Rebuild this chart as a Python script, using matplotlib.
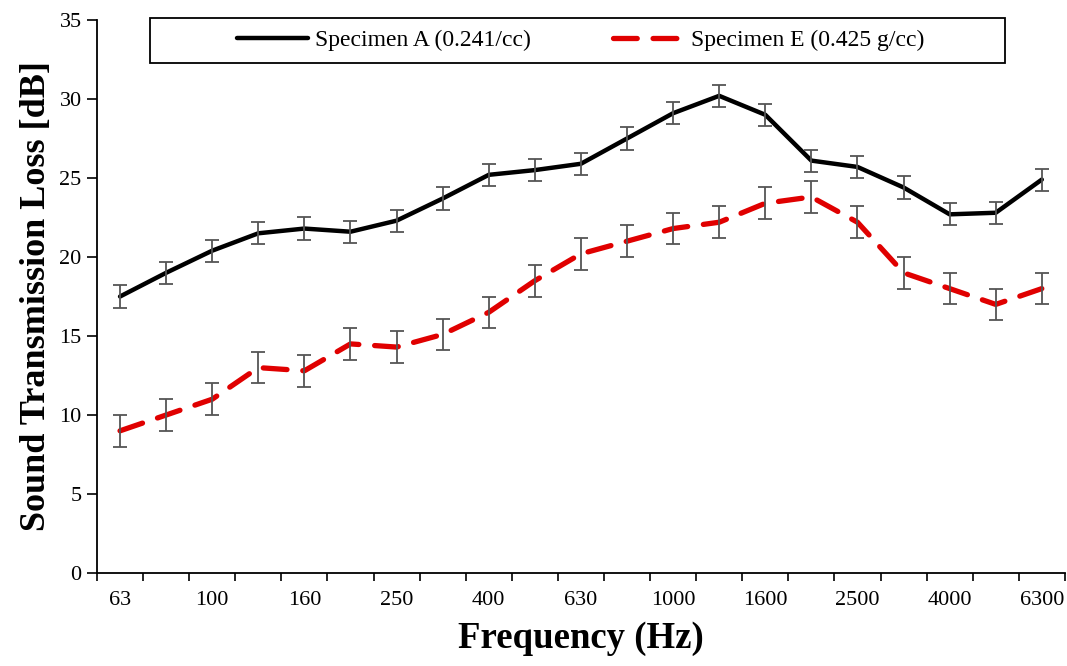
import matplotlib
matplotlib.use("Agg")
import matplotlib.pyplot as plt
from matplotlib.patches import Rectangle
import numpy as np

freqs = ["63", "80", "100", "125", "160", "200", "250", "315", "400", "500",
         "630", "800", "1000", "1250", "1600", "2000", "2500", "3150", "4000", "5000", "6300"]
spec_a = [17.5, 19.0, 20.4, 21.5, 21.8, 21.6, 22.3, 23.7, 25.2, 25.5,
          25.9, 27.5, 29.1, 30.2, 29.0, 26.1, 25.7, 24.4, 22.7, 22.8, 24.9]
err_a = [0.7] * 21
spec_e = [9.0, 10.0, 11.0, 13.0, 12.8, 14.5, 14.3, 15.1, 16.5, 18.5,
          20.2, 21.0, 21.8, 22.2, 23.4, 23.8, 22.2, 19.0, 18.0, 17.0, 18.0]
err_e = [1.0] * 21
label_a = "Specimen A (0.241/cc)"
label_e = "Specimen E (0.425 g/cc)"

plt.rcParams['font.family'] = ['Liberation Serif', 'DejaVu Serif']

fig = plt.figure(figsize=(10.67, 6.66), dpi=100)
ax = fig.add_axes([0.0909, 0.1396, 0.9071, 0.8304])

x = np.arange(len(freqs))
la, = ax.plot(x, spec_a, color='black', lw=3.2, solid_capstyle='round', zorder=3)
ax.errorbar(x, spec_a, yerr=err_a, fmt='none', ecolor='#555555', elinewidth=1.3,
            capsize=5, capthick=1.3, zorder=4)
le, = ax.plot(x, spec_e, color='#e00000', lw=3.8, dashes=(4.5, 3.0),
              dash_capstyle='round', zorder=3)
ax.errorbar(x, spec_e, yerr=err_e, fmt='none', ecolor='#555555', elinewidth=1.3,
            capsize=5, capthick=1.3, zorder=4)

ax.set_xlim(-0.5, len(freqs) - 0.5)
ax.set_ylim(0, 35)
ax.set_yticks(np.arange(0, 36, 5))
ax.set_xticks(x[::2])
ax.set_xticklabels(freqs[::2])
ax.set_xticks(np.arange(-0.5, len(freqs), 1.0), minor=True)
ax.tick_params(axis='x', which='major', length=0, pad=13, labelsize=16)
ax.tick_params(axis='x', which='minor', length=6, width=1.2, direction='out')
ax.tick_params(axis='y', which='major', length=7, width=1.2, direction='out',
               labelsize=16, pad=4)

for s in ['top', 'right']:
    ax.spines[s].set_visible(False)
for s in ['left', 'bottom']:
    ax.spines[s].set_linewidth(1.3)

ax.set_ylabel("Sound Transmission Loss [dB]", fontsize=26, fontweight='bold', labelpad=5)
ax.set_xlabel("Frequency (Hz)", fontsize=26.5, fontweight='bold', labelpad=8)

# legend frame
frame = Rectangle((0.055, 0.922), 0.883, 0.0816, transform=ax.transAxes,
                  facecolor='white', edgecolor='black', lw=1.3, zorder=5, clip_on=False)
ax.add_patch(frame)
leg = ax.legend([la, le], [label_a, label_e], ncol=2,
                bbox_to_anchor=(0.5, 0.963), loc='center',
                fontsize=17, frameon=False,
                handlelength=3.0, handletextpad=0.3, borderaxespad=0,
                columnspacing=3.5)
leg.set_zorder(6)

fig.savefig("out.png", dpi=100)
